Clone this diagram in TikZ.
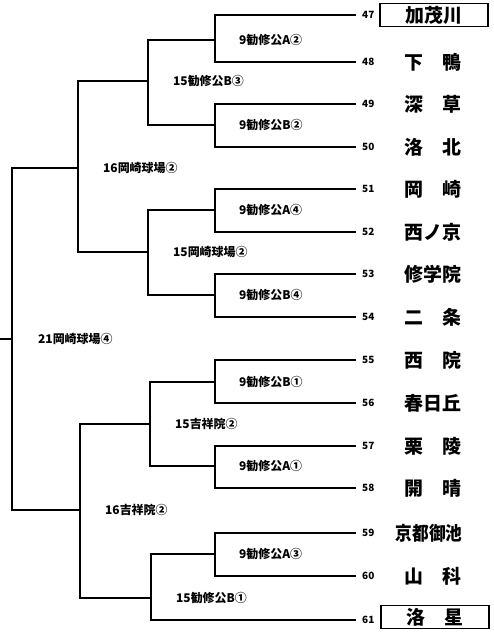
\documentclass[tikz,border=0pt]{standalone}
\usepackage{fontspec}
\usepackage{tikz}
\usetikzlibrary{positioning}
\newfontfamily\jp{Noto Sans CJK JP}

\begin{document}
\begin{tikzpicture}[x=1bp, y=-1bp, node distance=25bp]

    % Define style for nodes and lines
    \tikzstyle{school} = [inner sep=0pt, font=\jp\bfseries\fontsize{19}{19}\selectfont]
    \tikzstyle{seed} = [school, draw=black, line width=1.3bp, minimum width=108bp, minimum height=23bp]
    \tikzstyle{num} = [anchor=west, inner xsep=6bp, inner ysep=0pt, font=\jp\bfseries\fontsize{10}{10}\selectfont]
    \tikzstyle{game} = [inner sep=0pt, font=\jp\bfseries\fontsize{12}{12}\selectfont]
    \tikzstyle{bracket} = [line width=1.4bp]

    \useasboundingbox (0,0) rectangle (494,636);

    % Numbers
    \foreach \n/\y in {47/15, 48/62, 49/104, 50/147, 51/189, 52/232, 53/274, 54/317,
                       55/360, 56/403, 57/446, 58/488, 59/533, 60/576, 61/620}
        \node[num] (n\n) at (356,\y) {\n};

    % Schools
    \node (kamogawa) [seed] at (434,15) {加茂川};
    \node (shimogamo) [school] at (433,62) {下　鴨};
    \node (fukakusa) [school] at (433,104) {深　草};
    \node (rakuhoku) [school] at (433,147) {洛　北};
    \node (okazaki) [school] at (433,189) {岡　崎};
    \node (nishinokyo) [school] at (433,232) {西ノ京};
    \node (shugakuin) [school] at (433,274) {修学院};
    \node (nijo) [school] at (433,317) {二　条};
    \node (saiin) [school] at (433,360) {西　院};
    \node (kasugaoka) [school] at (433,403) {春日丘};
    \node (ritsuryo) [school] at (433,446) {栗　陵};
    \node (kaisei) [school] at (433,488) {開　晴};
    \node (oike) [school] at (429,533) {\scalebox{0.88}[1]{京都御池}};
    \node (yamashina) [school] at (433,576) {山　科};
    \node (rakusei) [seed] at (435,617) {洛　星};

    % Joints
    \coordinate (m4748) at (215,40);
    \coordinate (m4950) at (215,125);
    \coordinate (m5152) at (215,210);
    \coordinate (m5354) at (215,295);
    \coordinate (m5556) at (215,382);
    \coordinate (m5758) at (215,466);
    \coordinate (m5960) at (215,554);
    \coordinate (q1) at (148,81);
    \coordinate (q2) at (148,252);
    \coordinate (q3) at (150,424);
    \coordinate (q4) at (151,598);
    \coordinate (s1) at (78,168);
    \coordinate (s2) at (80,510);
    \coordinate (final) at (12,339);
    \coordinate (root) at (0,339);

    % Lines
    \draw[bracket] (n47.west) -| (m4748) |- (n48.west);
    \draw[bracket] (n49.west) -| (m4950) |- (n50.west);
    \draw[bracket] (n51.west) -| (m5152) |- (n52.west);
    \draw[bracket] (n53.west) -| (m5354) |- (n54.west);
    \draw[bracket] (n55.west) -| (m5556) |- (n56.west);
    \draw[bracket] (n57.west) -| (m5758) |- (n58.west);
    \draw[bracket] (n59.west) -| (m5960) |- (n60.west);

    \draw[bracket] (m4748) -| (q1) |- (m4950);
    \draw[bracket] (m5152) -| (q2) |- (m5354);
    \draw[bracket] (m5556) -| (q3) |- (m5758);
    \draw[bracket] (m5960) -| (q4) |- (n61.west);

    \draw[bracket] (q1) -| (s1) |- (q2);
    \draw[bracket] (q3) -| (s2) |- (q4);

    \draw[bracket] (s1) -| (final) |- (s2);
    \draw[bracket] (final) -- (root);

    % Games
    \node (g1) [game, right=24bp of m4748] {9勧修公A②};
    \node (g2) [game, right=24bp of m4950] {9勧修公B②};
    \node (g3) [game, right=24bp of m5152] {9勧修公A④};
    \node (g4) [game, right=24bp of m5354] {9勧修公B④};
    \node (g5) [game, right=24bp of m5556] {9勧修公B①};
    \node (g6) [game, right=24bp of m5758] {9勧修公A①};
    \node (g7) [game, right=24bp of m5960] {9勧修公A③};
    \node (g8) [game, right=of q1] {15勧修公B③};
    \node (g9) [game, right=of q2] {15岡崎球場②};
    \node (g10) [game, right=of q3] {15吉祥院②};
    \node (g11) [game, right=of q4] {15勧修公B①};
    \node (g12) [game, right=of s1] {16岡崎球場②};
    \node (g13) [game, right=of s2] {16吉祥院②};
    \node (g14) [game, right=26bp of final] {21岡崎球場④};

\end{tikzpicture}
\end{document}
